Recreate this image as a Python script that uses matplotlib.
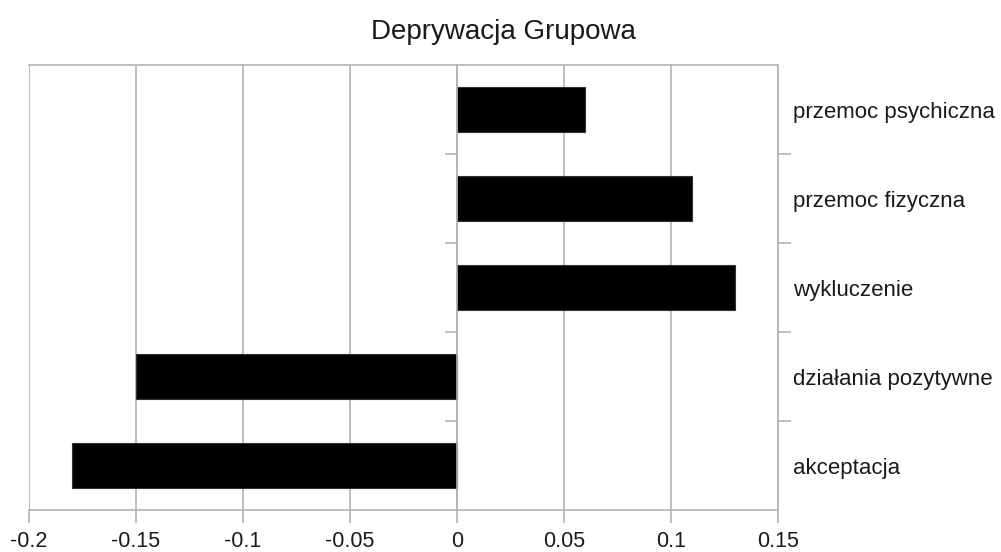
import numpy as np
import matplotlib.pyplot as plt

plt.rcParams['font.family'] = ['Liberation Sans', 'DejaVu Sans']

kategorie = ['akceptacja', 'działania pozytywne', 'wykluczenie', 'przemoc fizyczna', 'przemoc psychiczna']
wartosci = [-0.18, -0.15, 0.13, 0.11, 0.06]
x_ticki = [-0.2, -0.15, -0.1, -0.05, 0, 0.05, 0.1, 0.15]
x_etykiety = ['-0.2', '-0.15', '-0.1', '-0.05', '0', '0.05', '0.1', '0.15']

szary = '#b3b3b3'

fig = plt.figure(figsize=(10.01, 5.52), dpi=100)
ax = fig.add_axes([0.029, 0.076, 0.748, 0.806])

y = np.arange(len(kategorie))
ax.barh(y, wartosci, height=0.5, color='black', edgecolor='#333333', linewidth=0.8, zorder=3)

ax.set_xlim(-0.2, 0.15)
ax.set_ylim(-0.5, len(kategorie) - 0.5)
ax.set_xticks(x_ticki)
ax.set_xticklabels(x_etykiety)
ax.grid(axis='x', color=szary, linewidth=1.2, zorder=0)

ax.set_yticks(y)
ax.set_yticklabels(kategorie)
ax.set_yticks(np.arange(len(kategorie) - 1) + 0.5, minor=True)

for s in ['top', 'bottom', 'right', 'left']:
    ax.spines[s].set_color(szary)
    ax.spines[s].set_linewidth(1.2)
ax.spines['left'].set_position(('data', 0))
ax.spines['left'].set_zorder(4)

ax.tick_params(axis='y', which='both', left=True, right=True, labelleft=False, labelright=True,
               color=szary, width=1.2)
ax.tick_params(axis='y', which='major', length=0, pad=11, labelsize=16, labelcolor='#1a1a1a')
ax.tick_params(axis='y', which='minor', length=9, direction='out')
ax.tick_params(axis='x', length=9, color=szary, width=1.2, labelsize=15.5, labelcolor='#1a1a1a', pad=6)

fig.suptitle('Deprywacja Grupowa', fontsize=20, x=0.503, y=0.942, va='center', color='#1a1a1a')

fig.savefig('out.png', dpi=100)
